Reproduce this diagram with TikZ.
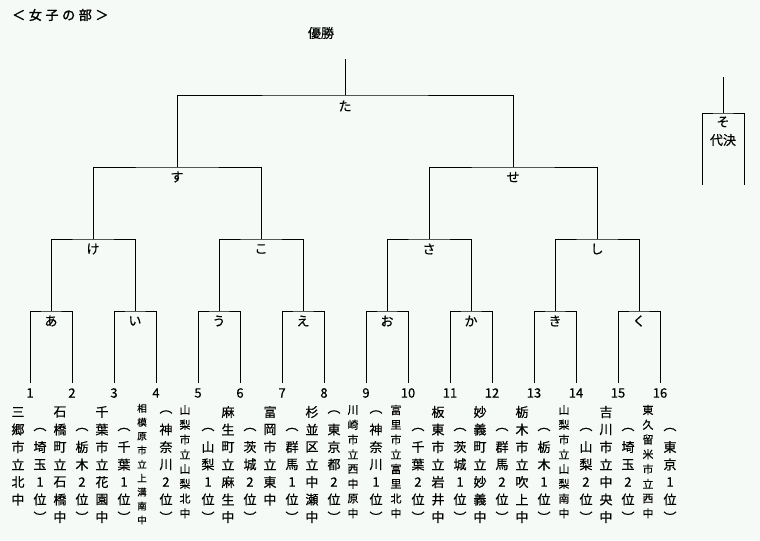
\documentclass[tikz,border=0pt]{standalone}
\usepackage{fontspec}
\newfontfamily\jpfont[FakeBold=0.4]{Noto Sans CJK JP}
\newfontfamily\jptitle[FakeBold=1.8,LetterSpace=28]{Noto Sans CJK JP}
\definecolor{bgcol}{RGB}{246,250,246}
\newcommand\vcolumn[6]{%
  \foreach \vc [count=\k] in {#6} {\node[#5] (#1-\k) at (#2,{#3+(\k-1)*#4}) {\vc};}%
}
\tikzset{
  bracket/.style={line width=0.75pt, black},
  lbl/.style={font=\jpfont\fontsize{9.75}{12}\selectfont, inner sep=0pt},
  numlbl/.style={font=\jpfont\fontsize{9.75}{12}\selectfont, inner sep=0pt},
  big/.style={font=\jpfont\fontsize{9.75}{12}\selectfont, inner sep=0pt},
  sm/.style={font=\jpfont\fontsize{8.25}{10}\selectfont, inner sep=0pt},
  tiny/.style={font=\jpfont\fontsize{7.2}{9}\selectfont, inner sep=0pt},
}
\begin{document}
\begin{tikzpicture}[x=0.75pt,y=-0.75pt]
\fill[bgcol] (0,0) rectangle (760,540);
\useasboundingbox (0,0) rectangle (760,540);

% title
\node[anchor=west, inner sep=0pt, font=\jptitle\fontsize{9.75}{12}\selectfont] (title) at (12,15) {＜女子の部＞};
\node[lbl] (champ) at (321,33) {優勝};

% leaves and numbers
\foreach \i in {1,...,16} {
  \coordinate (l\i) at ({30+42*(\i-1)},383);
  \node[numlbl] (n\i) at ({30+42*(\i-1)},393) {\i};
}
% junctions
\foreach \j in {1,...,8} \coordinate (r1-\j) at ({51+84*(\j-1)},311);
\foreach \j in {1,...,4} \coordinate (r2-\j) at ({93+168*(\j-1)},239);
\coordinate (r3-1) at (177,167);
\coordinate (r3-2) at (513,167);
\coordinate (top) at (345,95);
\coordinate (win) at (345,59);

% bracket lines
\foreach \j [evaluate=\j as \a using int(2*\j-1), evaluate=\j as \b using int(2*\j)] in {1,...,8}
  \draw[bracket] (l\a) |- (r1-\j) -| (l\b);
\foreach \j [evaluate=\j as \a using int(2*\j-1), evaluate=\j as \b using int(2*\j)] in {1,...,4}
  \draw[bracket] (r1-\a) |- (r2-\j) -| (r1-\b);
\draw[bracket] (r2-1) |- (r3-1) -| (r2-2);
\draw[bracket] (r2-3) |- (r3-2) -| (r2-4);
\draw[bracket] (r3-1) |- (top) -| (r3-2);
\draw[bracket] (top) -- (win);

% match labels
\foreach \t [count=\j] in {あ,い,う,え,お,か,き,く}
  \node[lbl] (m1-\j) at ({51+84*(\j-1)},321) {\t};
\foreach \t [count=\j] in {け,こ,さ,し}
  \node[lbl] (m2-\j) at ({93+168*(\j-1)},249) {\t};
\node[lbl] (m3-1) at (177,177) {す};
\node[lbl] (m3-2) at (513,177) {せ};
\node[lbl] (m4) at (345,106) {た};

% playoff box
\coordinate (so-top) at (723,77);
\coordinate (so-j) at (723,113);
\coordinate (so-l) at (702,185);
\coordinate (so-r) at (744,185);
\draw[bracket] (so-l) |- (so-j) -| (so-r);
\draw[bracket] (so-j) -- (so-top);
\node[lbl] (so) at (723,122) {そ};
\node[lbl] (daiketsu) at (723,140) {代決};

% school names (x = leaf - 12)
\vcolumn{s1}{18}{412}{17.5}{big}{三,郷,市,立,北,中}
\vcolumn{s2}{60}{412}{17.5}{big}{石,橋,町,立,石,橋,中}
\vcolumn{s3}{102}{412}{17.5}{big}{千,葉,市,立,花,園,中}
\vcolumn{s4}{142}{408.3}{13.96}{tiny}{相,模,原,市,立,上,溝,南,中}
\vcolumn{s5}{185}{410}{14.76}{sm}{山,梨,市,立,山,梨,北,中}
\vcolumn{s6}{228}{412}{17.5}{big}{麻,生,町,立,麻,生,中}
\vcolumn{s7}{270}{412}{17.5}{big}{富,岡,市,立,東,中}
\vcolumn{s8}{312}{412}{17.5}{big}{杉,並,区,立,中,瀬,中}
\vcolumn{s9}{353}{410}{14.76}{sm}{川,崎,市,立,西,中,原,中}
\vcolumn{s10}{396}{410}{14.76}{sm}{富,里,市,立,富,里,北,中}
\vcolumn{s11}{438}{412}{17.5}{big}{板,東,市,立,岩,井,中}
\vcolumn{s12}{480}{412}{17.5}{big}{妙,義,町,立,妙,義,中}
\vcolumn{s13}{522}{412}{17.5}{big}{栃,木,市,立,吹,上,中}
\vcolumn{s14}{564}{410}{14.76}{sm}{山,梨,市,立,山,梨,南,中}
\vcolumn{s15}{606}{412}{17.5}{big}{吉,川,市,立,中,央,中}
\vcolumn{s16}{648}{410}{14.76}{sm}{東,久,留,米,市,立,西,中}

% prefecture results (x = leaf + 10)
\vcolumn{p1}{40}{429.5}{17.5}{big}{︵,埼,玉,1,位,︶}
\vcolumn{p2}{82}{429.5}{17.5}{big}{︵,栃,木,2,位,︶}
\vcolumn{p3}{124}{429.5}{17.5}{big}{︵,千,葉,1,位,︶}
\vcolumn{p4}{166}{412}{17.5}{big}{︵,神,奈,川,2,位,︶}
\vcolumn{p5}{208}{429.5}{17.5}{big}{︵,山,梨,1,位,︶}
\vcolumn{p6}{250}{429.5}{17.5}{big}{︵,茨,城,2,位,︶}
\vcolumn{p7}{292}{429.5}{17.5}{big}{︵,群,馬,1,位,︶}
\vcolumn{p8}{334}{412}{17.5}{big}{︵,東,京,都,2,位,︶}
\vcolumn{p9}{376}{412}{17.5}{big}{︵,神,奈,川,1,位,︶}
\vcolumn{p10}{418}{429.5}{17.5}{big}{︵,千,葉,2,位,︶}
\vcolumn{p11}{460}{429.5}{17.5}{big}{︵,茨,城,1,位,︶}
\vcolumn{p12}{502}{429.5}{17.5}{big}{︵,群,馬,2,位,︶}
\vcolumn{p13}{544}{429.5}{17.5}{big}{︵,栃,木,1,位,︶}
\vcolumn{p14}{586}{429.5}{17.5}{big}{︵,山,梨,2,位,︶}
\vcolumn{p15}{628}{429.5}{17.5}{big}{︵,埼,玉,2,位,︶}
\vcolumn{p16}{670}{429.5}{17.5}{big}{︵,東,京,1,位,︶}
\end{tikzpicture}
\end{document}
